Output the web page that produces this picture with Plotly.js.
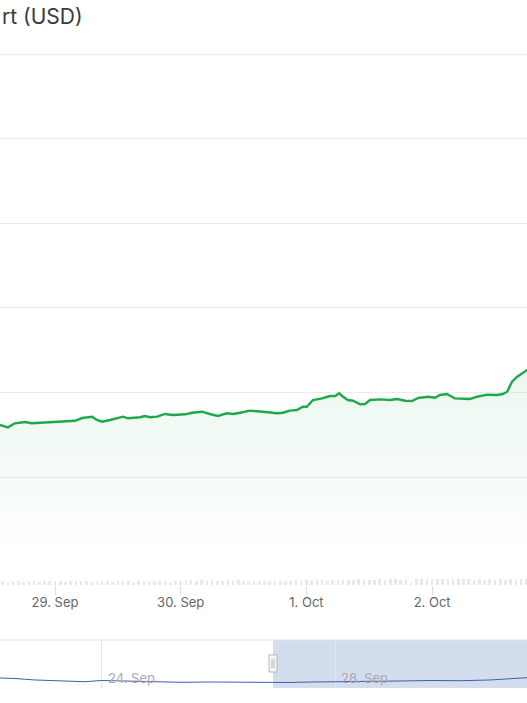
<!DOCTYPE html>
<html>
<head>
<meta charset="utf-8">
<script src="https://cdn.plot.ly/plotly-3.0.1.min.js"></script>
<style>
html,body{margin:0;padding:0;background:#fff;}
#chart{width:527px;height:703px;}
</style>
</head>
<body>
<div id="chart"></div>
<script>
// ---- Main price series (USD, arbitrary units) ----
const priceTimes = ['2024-09-28 13:30','2024-09-28 15:00','2024-09-28 16:20','2024-09-28 18:15','2024-09-28 19:35','2024-09-28 21:45','2024-09-28 23:35','2024-09-29 02:15','2024-09-29 03:50','2024-09-29 05:10','2024-09-29 07:05','2024-09-29 08:00','2024-09-29 09:00','2024-09-29 10:30','2024-09-29 13:00','2024-09-29 13:55','2024-09-29 16:15','2024-09-29 17:10','2024-09-29 18:10','2024-09-29 19:30','2024-09-29 21:00','2024-09-29 22:30','2024-09-30 00:50','2024-09-30 02:10','2024-09-30 04:05','2024-09-30 05:35','2024-09-30 07:05','2024-09-30 08:50','2024-09-30 10:00','2024-09-30 11:20','2024-09-30 13:15','2024-09-30 15:45','2024-09-30 18:25','2024-09-30 19:30','2024-09-30 20:50','2024-09-30 22:10','2024-09-30 23:20','2024-10-01 00:05','2024-10-01 01:15','2024-10-01 03:00','2024-10-01 04:30','2024-10-01 05:30','2024-10-01 06:15','2024-10-01 07:00','2024-10-01 07:55','2024-10-01 08:55','2024-10-01 10:15','2024-10-01 11:10','2024-10-01 12:10','2024-10-01 14:05','2024-10-01 16:00','2024-10-01 17:20','2024-10-01 18:50','2024-10-01 20:10','2024-10-01 21:20','2024-10-01 23:15','2024-10-02 00:35','2024-10-02 01:30','2024-10-02 02:50','2024-10-02 04:20','2024-10-02 06:15','2024-10-02 07:15','2024-10-02 08:35','2024-10-02 10:30','2024-10-02 12:25','2024-10-02 13:30','2024-10-02 14:20','2024-10-02 15:15','2024-10-02 16:15','2024-10-02 17:20','2024-10-02 18:10','2024-10-02 19:30'];
const priceValues = [1.615,1.587,1.635,1.650,1.635,1.642,1.654,1.654,1.665,1.697,1.713,1.674,1.654,1.674,1.713,1.694,1.706,1.721,1.706,1.713,1.745,1.733,1.741,1.760,1.772,1.745,1.721,1.753,1.745,1.760,1.784,1.772,1.753,1.760,1.784,1.792,1.831,1.831,1.910,1.930,1.957,1.957,1.989,1.949,1.910,1.902,1.859,1.863,1.910,1.918,1.910,1.922,1.902,1.898,1.934,1.949,1.937,1.969,1.981,1.930,1.930,1.922,1.949,1.973,1.969,1.981,2.008,2.126,2.186,2.226,2.265,2.300];

// ---- Hourly volume (small bars along the bottom), starting 28 Sep 13:00 ----
const volumeStart = '2024-09-28T13:00:00Z';
const volumeValues = [
  0.6,0.7,0.6,0.7,0.7,0.6,0.7,0.7,0.6,0.7,0.7,
  0.7,0.7,0.6,0.7,0.8,0.7,0.7,0.6,0.7,0.7,0.7,0.6,0.7,0.7,0.7,0.6,0.7,0.7,0.6,0.7,0.7,0.7,0.6,0.7,
  0.8,0.7,0.9,0.8,0.9,0.8,0.9,0.8,0.7,0.9,0.8,0.9,0.8,0.7,0.8,0.7,0.7,0.8,0.7,0.8,0.7,0.8,0.9,0.8,
  0.9,0.8,1.0,0.9,0.8,1.0,0.9,1.0,0.9,1.0,1.1,1.0,0.9,1.0,1.1,1.0,1.1,1.1,1.0,1.1,0.4,1.1,1.1,1.2,
  1.2,1.1,1.2,1.1,1.2,1.1,1.2,1.1,1.0,1.1,1.0,1.1,1.0,1.1,1.0,1.1,1.2,1.1,1.2
];
const volumeTimes = volumeValues.map((v, i) => {
  const d = new Date(Date.parse(volumeStart) + i * 3600000);
  return d.toISOString().slice(0, 16).replace('T', ' ');
});

// ---- Navigator series ----
const navTimes = ['2024-09-22 06:10','2024-09-22 12:20','2024-09-22 20:30','2024-09-23 06:50','2024-09-23 17:10','2024-09-24 00:00','2024-09-24 07:30','2024-09-24 19:55','2024-09-25 08:15','2024-09-25 20:40','2024-09-26 09:00','2024-09-26 21:20','2024-09-27 05:35','2024-09-27 13:50','2024-09-28 00:00','2024-09-28 14:25','2024-09-29 02:50','2024-09-29 15:10','2024-09-30 03:35','2024-09-30 15:55','2024-10-01 00:10','2024-10-01 07:00'];
const navValues = [2.08,1.98,1.67,1.46,1.31,1.56,1.46,1.25,1.19,1.25,1.19,1.25,1.15,1.25,1.35,1.40,1.46,1.56,1.52,1.67,1.88,2.15];
const navLabels = ['24. Sep', '28. Sep'];
const navLabelDates = ['2024-09-24', '2024-09-28'];
const navSelectionStart = '2024-09-26 22:30';

const mainTickDates = ['2024-09-29','2024-09-30','2024-10-01','2024-10-02'];
const mainTickLabels = ['29. Sep','30. Sep','1. Oct','2. Oct'];
const gridValues = [1,2,3,4,5,6];

const green = 'rgb(30,168,75)';
const FONT = 'Inter, "Noto Sans", sans-serif';

const traces = [
  {
    x: volumeTimes, y: volumeValues, type: 'bar',
    xaxis: 'x', yaxis: 'y3',
    marker: {color: '#e6e9ef'}, width: 3600000 * 0.5,
    hoverinfo: 'skip', showlegend: false
  },
  {
    x: priceTimes, y: priceValues, type: 'scatter', mode: 'lines',
    xaxis: 'x', yaxis: 'y',
    line: {color: green, width: 2.4},
    fill: 'tozeroy',
    fillgradient: {type: 'vertical', start: 0, stop: 2.3,
      colorscale: [[0, 'rgba(30,168,75,0)'], [1, 'rgba(30,168,75,0.09)']]},
    showlegend: false
  },
  {
    x: navTimes, y: navValues, type: 'scatter', mode: 'lines',
    xaxis: 'x2', yaxis: 'y2',
    line: {color: '#3a5fae', width: 1},
    showlegend: false
  }
];

const layout = {
  width: 527, height: 703,
  margin: {l: 0, r: 0, t: 53, b: 15},
  paper_bgcolor: '#ffffff', plot_bgcolor: 'rgba(0,0,0,0)',
  font: {family: FONT, color: '#666'},
  showlegend: false,
  bargap: 0,
  xaxis: {
    type: 'date',
    range: ['2024-09-28 13:30', '2024-10-02 18:07'],
    tickvals: mainTickDates, ticktext: mainTickLabels,
    ticks: 'outside', ticklen: 9, tickcolor: '#d9dee8', tickwidth: 1,
    ticklabelstandoff: -4,
    tickfont: {family: FONT, size: 13, color: '#666'},
    showgrid: false, zeroline: false, showline: false,
    anchor: 'y'
  },
  yaxis: {
    domain: [0.1622, 1],
    range: [-0.2766, 6.012],
    tickvals: gridValues, showticklabels: false,
    showgrid: true, gridcolor: '#ececec', gridwidth: 1,
    zeroline: false, showline: false, ticks: ''
  },
  yaxis3: {
    overlaying: 'y', range: [0, 100],
    showgrid: false, zeroline: false, showticklabels: false, showline: false
  },
  xaxis2: {
    type: 'date',
    range: ['2024-09-22 06:10', '2024-10-01 07:00'],
    tickvals: navLabelDates, showticklabels: false,
    showgrid: true, gridcolor: '#e6e6e6', gridwidth: 1,
    zeroline: false, showline: false, ticks: '',
    anchor: 'y2'
  },
  yaxis2: {
    domain: [0, 0.0756],
    range: [0, 10],
    showgrid: false, zeroline: false, showticklabels: false, showline: false,
    anchor: 'x2'
  },
  shapes: [
    {type: 'rect', xref: 'x2', yref: 'paper', x0: navSelectionStart, x1: '2024-10-01 07:00',
      y0: 0, y1: 0.0756, fillcolor: 'rgba(102,133,194,0.28)', line: {width: 0}, layer: 'below'},
    {type: 'line', xref: 'paper', yref: 'paper', x0: 0, x1: 1, y0: 0.0756, y1: 0.0756,
      line: {color: '#e2e5ea', width: 1}},
    {type: 'rect', xref: 'x2', yref: 'paper', xsizemode: 'pixel', xanchor: navSelectionStart,
      x0: -4, x1: 4, y0: 0.0252, y1: 0.0521, fillcolor: '#f7f7f7', line: {color: '#b5b5b5', width: 1}},
    {type: 'line', xref: 'x2', yref: 'paper', xsizemode: 'pixel', xanchor: navSelectionStart,
      x0: -1, x1: -1, y0: 0.031, y1: 0.046, line: {color: '#b5b5b5', width: 1}},
    {type: 'line', xref: 'x2', yref: 'paper', xsizemode: 'pixel', xanchor: navSelectionStart,
      x0: 1, x1: 1, y0: 0.031, y1: 0.046, line: {color: '#b5b5b5', width: 1}}
  ],
  annotations: [
    {text: 'rt (USD)', xref: 'paper', yref: 'paper', x: 0, y: 1.0572,
      xanchor: 'left', yanchor: 'middle', showarrow: false,
      font: {family: FONT, size: 21, color: '#3a3a3a'}},
    ...navLabels.map((t, i) => ({
      text: t, xref: 'x2', yref: 'paper', x: navLabelDates[i], y: 0.0158,
      xanchor: 'left', yanchor: 'middle', xshift: 4, showarrow: false,
      font: {family: FONT, size: 13, color: '#a8a8a8'}
    }))
  ]
};

Plotly.newPlot('chart', traces, layout, {displayModeBar: false, staticPlot: true});
</script>
</body>
</html>
